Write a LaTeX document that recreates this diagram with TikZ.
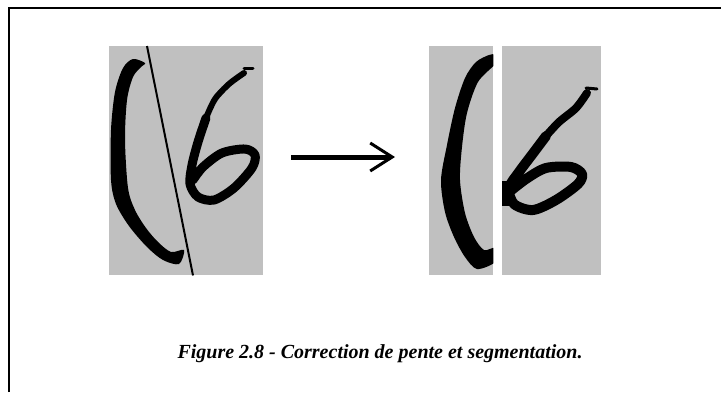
\documentclass[tikz,border=0pt]{standalone}
\usepackage{fontspec}
\setmainfont{Liberation Serif}
\usetikzlibrary{arrows.meta}

\definecolor{fondgris}{RGB}{192,192,192}

\tikzset{
  imagette/.style={fill=fondgris, draw=none, inner sep=0pt, anchor=north west},
  trait/.style={line width=#1, line cap=round, line join=round},
  legende/.style={font=\bfseries\itshape\fontsize{20}{24}\selectfont, anchor=base}
}

\begin{document}
\begin{tikzpicture}[x=1pt, y=-1pt]
  \useasboundingbox (0,0) rectangle (721,392);

  % Cadre (ouvert a droite et en bas)
  \draw[line width=2pt] (9,392) -- (9,8) -- (721,8);

  % Imagettes grises
  \node[imagette, minimum width=154pt, minimum height=229pt] (avant) at (109,46) {};
  \node[imagette, minimum width=64pt, minimum height=229pt] (gauche) at (429,46) {};
  \node[imagette, minimum width=99pt, minimum height=229pt] (droite) at (502,46) {};

  % Avant : parenthese, 6 et droite de coupe
  \fill plot[smooth cycle] coordinates {(145,63) (133,59) (123,68) (115,92)
    (111,130) (111,180) (116,204) (129,226) (147,247) (163,260) (179,264)
    (184,250) (171,252) (158,242) (146,228) (135,210) (128,188) (125,140)
    (127,100) (133,77) (141,67)};
  \draw[trait=6pt] plot[smooth] coordinates {(244,73) (229,84) (215,99)
    (206,118)};
  \draw[trait=9pt] plot[smooth] coordinates {(206,118)
    (198,142) (192,165) (190,184) (198,197) (214,200) (234,188)
    (252,168) (255,155) (245,149) (222,153) (203,167) (193,180)};
  \draw[trait=3pt] (244,68) -- (253,68);
  \path (avant.north west) ++(38,0) coordinate (coupe-haut)
    (avant.south west) ++(84,0) coordinate (coupe-bas);
  \draw[line width=2pt] (coupe-haut) -- (coupe-bas);

  % Apres : parenthese
  \begin{scope}
    \clip (gauche.north west) rectangle (gauche.south east);
    \fill plot[smooth cycle] coordinates {(489,55) (476,62) (465,78) (455,108)
      (447,145) (441,180) (445,212) (454,237) (465,257) (477,269) (495,262)
      (495,248) (484,250) (474,237) (465,213) (460,180) (462,147) (467,113)
      (478,82) (495,64) (495,55)};
  \end{scope}

  % Apres : chiffre 6
  \begin{scope}
    \clip (droite.north west) rectangle (droite.south east);
    \draw[trait=8pt] plot[smooth] coordinates {(587,93) (576,108) (559,122)
      (546,136)};
    \draw[trait=10pt] plot[smooth] coordinates {(546,136)
      (531,156) (519,172) (509,188) (514,204) (533,210) (556,200)
      (578,184) (582,174) (571,167) (546,168) (526,179) (508,193)};
    \fill (500,181) rectangle (513,206);
    \draw[trait=3pt] (586,88) -- (597,89);
  \end{scope}

  % Fleche
  \coordinate (debut) at (291,157);
  \coordinate (fin) at (395,157);
  \draw[line width=5pt, -{Straight Barb[length=22pt, width=28pt, line width'=3pt]}]
    (debut) -- (fin);

  % Legende
  \node[legende] (titre) at (380,358)
    {Figure 2.8 - Correction de pente et segmentation.};
\end{tikzpicture}
\end{document}
